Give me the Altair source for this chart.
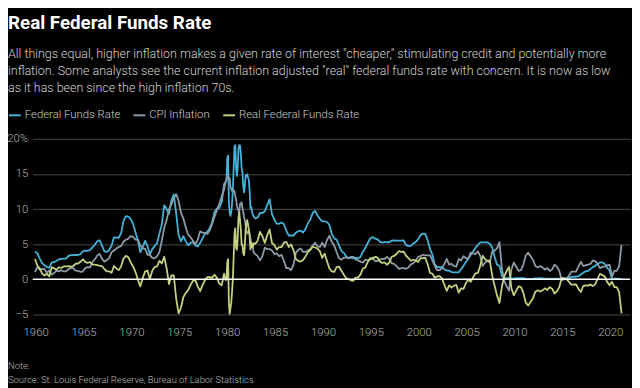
import altair as alt
import pandas as pd

# ---------------- data ----------------
# periods: quarterly 1960-1979, monthly 1980-1982, quarterly 1983-2021Q2
periods = (
    [f"{y}Q{q}" for y in range(1960, 1980) for q in range(1, 5)]
    + [f"{y}-{m:02d}" for y in range(1980, 1983) for m in range(1, 13)]
    + [f"{y}Q{q}" for y in range(1983, 2022) for q in range(1, 5)][:-2]
)

fed_funds = [
    3.93, 3.70, 2.94, 2.30, 2.00, 1.73, 1.68, 2.40, 2.46, 2.61, 2.85, 2.92,
    2.96, 2.96, 3.33, 3.45, 3.46, 3.49, 3.46, 3.58, 3.97, 4.08, 4.07, 4.17,
    4.56, 4.91, 5.41, 5.56, 4.82, 3.99, 3.89, 4.17, 4.79, 5.98, 5.94, 5.92,
    6.57, 8.33, 8.98, 8.94, 8.57, 7.88, 6.70, 5.57, 3.86, 4.56, 5.48, 4.75,
    3.54, 4.30, 4.74, 5.14, 6.54, 7.82, 10.56, 10.00, 9.32, 11.25, 12.09, 9.35,
    6.30, 5.42, 6.16, 5.41, 4.83, 5.20, 5.28, 4.87, 4.66, 5.16, 5.82, 6.51,
    6.76, 7.28, 8.10, 9.58, 10.07, 10.18, 10.95, 13.58,
    # monthly 1980-1982
    13.82, 14.13, 17.19, 17.61, 10.98, 9.47, 9.03, 9.61, 10.87, 12.81, 15.85, 18.90,
    19.08, 15.93, 14.70, 15.72, 18.52, 19.10, 19.04, 17.82, 15.87, 15.08, 13.31, 12.37,
    13.22, 14.78, 14.68, 14.94, 14.45, 14.15, 12.59, 10.12, 10.31, 9.71, 9.20, 8.95,
    # quarterly 1983-2021
    8.65, 8.80, 9.46, 9.43, 9.69, 10.56, 11.39, 9.27, 8.48, 7.92, 7.90, 8.10,
    7.83, 6.92, 6.21, 6.27, 6.22, 6.65, 6.84, 6.92, 6.66, 7.16, 7.98, 8.47,
    9.44, 9.73, 9.08, 8.61, 8.25, 8.24, 8.16, 7.74, 6.43, 5.86, 5.64, 4.82,
    4.02, 3.77, 3.26, 3.04, 3.04, 3.00, 3.06, 2.99, 3.21, 3.94, 4.49, 5.17,
    5.81, 6.02, 5.80, 5.72, 5.36, 5.24, 5.31, 5.28, 5.28, 5.52, 5.53, 5.51,
    5.52, 5.50, 5.53, 4.86, 4.73, 4.75, 5.09, 5.31, 5.68, 6.27, 6.52, 6.47,
    5.59, 4.33, 3.50, 2.13, 1.73, 1.75, 1.74, 1.44, 1.25, 1.25, 1.02, 1.00,
    1.00, 1.01, 1.43, 1.95, 2.47, 2.94, 3.46, 3.98, 4.46, 4.91, 5.25, 5.25,
    5.26, 5.25, 5.07, 4.50, 3.18, 2.09, 1.94, 0.51, 0.18, 0.18, 0.16, 0.12,
    0.13, 0.19, 0.19, 0.19, 0.16, 0.09, 0.08, 0.07, 0.10, 0.15, 0.14, 0.16,
    0.14, 0.12, 0.09, 0.09, 0.07, 0.09, 0.09, 0.10, 0.11, 0.13, 0.13, 0.16,
    0.36, 0.37, 0.39, 0.45, 0.70, 0.95, 1.15, 1.20, 1.45, 1.74, 1.92, 2.22,
    2.40, 2.40, 2.19, 1.64, 1.26, 0.06, 0.09, 0.09, 0.08, 0.06,
]

cpi_inflation = [
    1.03, 1.73, 1.36, 1.48, 1.46, 0.94, 1.25, 0.67, 0.89, 1.24, 1.13, 1.30,
    1.12, 1.12, 1.46, 1.63, 1.58, 1.24, 1.21, 1.08, 1.11, 1.60, 1.75, 1.70,
    2.47, 2.83, 3.38, 3.63, 2.93, 2.52, 2.74, 3.02, 3.86, 4.09, 4.39, 4.61,
    4.72, 5.38, 5.64, 5.79, 6.16, 6.04, 5.66, 5.60, 4.86, 4.41, 4.38, 3.50,
    3.48, 3.06, 2.99, 3.30, 3.90, 5.53, 7.35, 8.43, 9.98, 10.67, 11.54, 12.12,
    11.14, 9.46, 8.67, 7.37, 6.35, 5.98, 5.49, 4.98, 5.65, 6.83, 6.64, 6.62,
    6.45, 6.97, 7.88, 8.92, 9.85, 10.76, 11.80, 12.76,
    13.91, 14.18, 14.76, 14.73, 14.41, 14.38, 13.13, 12.87, 12.60, 12.77, 12.65, 12.52,
    11.83, 11.41, 10.49, 10.00, 9.78, 9.55, 10.76, 10.80, 10.95, 10.14, 9.59, 8.92,
    8.39, 7.62, 6.78, 6.51, 6.68, 7.06, 6.44, 5.85, 5.04, 5.14, 4.59, 3.83,
    3.6, 3.3, 2.7, 3.3, 4.5, 4.3, 4.3, 4.1, 3.6, 3.7, 3.3, 3.5,
    2.6, 1.6, 1.6, 1.3, 2.1, 3.8, 4.2, 4.4, 3.9, 3.9, 4.1, 4.3,
    4.8, 5.2, 4.7, 4.6, 5.2, 4.6, 5.6, 6.2, 5.3, 4.8, 3.9, 3.0,
    2.8, 3.1, 3.1, 3.0, 3.2, 3.2, 2.8, 2.7, 2.5, 2.4, 2.8, 2.7,
    2.8, 3.1, 2.6, 2.6, 2.8, 2.9, 2.9, 3.2, 2.9, 2.3, 2.2, 1.9,
    1.5, 1.6, 1.6, 1.5, 1.7, 2.1, 2.3, 2.6, 3.2, 3.3, 3.5, 3.4,
    3.4, 3.4, 2.7, 1.9, 1.3, 1.3, 1.6, 2.2, 2.9, 2.1, 2.2, 1.9,
    1.8, 2.9, 2.7, 3.3, 3.0, 3.0, 3.8, 3.7, 3.6, 4.0, 3.3, 1.9,
    2.4, 2.6, 2.4, 4.0, 4.1, 4.4, 5.3, 1.6, -0.2, -1.0, -1.6, 1.4,
    2.4, 1.8, 1.2, 1.3, 2.1, 3.4, 3.8, 3.3, 2.8, 1.9, 1.7, 1.9,
    1.7, 1.4, 1.6, 1.2, 1.4, 2.1, 1.8, 1.2, -0.1, 0.0, 0.1, 0.5,
    1.1, 1.1, 1.1, 1.8, 2.5, 1.9, 2.0, 2.1, 2.2, 2.7, 2.6, 2.2,
    1.6, 1.8, 1.8, 2.0, 2.1, 0.4, 1.2, 1.2, 1.9, 4.9,
]

real_rate = [
    2.90, 1.97, 1.58, 0.82, 0.54, 0.79, 0.43, 1.73, 1.57, 1.37, 1.72, 1.62,
    1.84, 1.84, 1.87, 1.82, 1.88, 2.25, 2.25, 2.50, 2.86, 2.48, 2.32, 2.47,
    2.09, 2.08, 2.03, 1.93, 1.89, 1.47, 1.15, 1.15, 0.93, 1.89, 1.55, 1.31,
    1.85, 2.95, 3.34, 3.15, 2.41, 1.84, 1.04, -0.03, -1.00, 0.15, 1.10, 1.25,
    0.06, 1.24, 1.75, 1.84, 2.64, 2.29, 3.21, 1.57, -0.66, 0.58, 0.55, -2.77,
    -4.84, -4.04, -2.51, -1.96, -1.52, -0.78, -0.21, -0.11, -0.99, -1.67, -0.82, -0.11,
    0.31, 0.31, 0.22, 0.66, 0.22, -0.58, -0.85, 0.82,
    -0.09, -0.05, 2.43, 2.88, -3.43, -4.91, -4.10, -3.26, -1.73, 0.04, 3.20, 6.38,
    7.25, 4.52, 4.21, 5.72, 8.74, 9.55, 8.28, 7.02, 4.92, 4.94, 3.72, 3.45,
    4.83, 7.16, 7.90, 8.43, 7.77, 7.09, 6.15, 4.27, 5.27, 4.57, 4.61, 5.12,
    5.05, 5.50, 6.76, 6.13, 5.19, 6.26, 7.09, 5.17, 4.88, 4.22, 4.60, 4.60,
    5.23, 5.32, 4.61, 4.97, 4.12, 2.85, 2.64, 2.52, 2.76, 3.26, 3.88, 4.17,
    4.64, 4.53, 4.38, 4.01, 3.05, 3.64, 2.56, 1.54, 1.13, 1.06, 1.74, 1.82,
    1.22, 0.67, 0.16, 0.04, -0.16, -0.20, 0.26, 0.29, 0.71, 1.54, 1.69, 2.47,
    3.01, 2.92, 3.20, 3.12, 2.56, 2.34, 2.41, 2.08, 2.38, 3.22, 3.33, 3.61,
    4.02, 3.90, 3.93, 3.36, 3.03, 2.65, 2.79, 2.71, 2.48, 2.97, 3.02, 3.07,
    2.19, 0.93, 0.80, 0.23, 0.43, 0.45, 0.14, -0.76, -1.65, -0.85, -1.18, -0.90,
    -0.80, -1.89, -1.27, -1.35, -0.53, -0.06, -0.34, 0.28, 0.86, 0.91, 1.95, 3.35,
    2.86, 2.65, 2.67, 0.50, -0.92, -2.31, -3.36, -1.09, 0.38, 1.18, 1.76, -1.28,
    -2.27, -1.61, -1.01, -1.11, -1.94, -3.31, -3.72, -3.23, -2.70, -1.75, -1.56, -1.74,
    -1.56, -1.28, -1.51, -1.11, -1.33, -2.01, -1.71, -1.10, 0.21, 0.13, 0.03, -0.34,
    -0.74, -0.73, -0.71, -1.35, -1.80, -0.95, -0.85, -0.90, -0.75, -0.96, -0.68, 0.02,
    0.80, 0.60, 0.39, -0.36, -0.84, -0.34, -1.11, -1.11, -1.82, -4.84,
]

series_names = ["Federal Funds Rate", "CPI Inflation", "Real Federal Funds Rate"]
series_colors = ["#44b3d9", "#8e9ba8", "#c3d27f"]
x_tick_years = [1960, 1965, 1970, 1975, 1980, 1985, 1990, 1995, 2000, 2005, 2010, 2015, 2020]
y_ticks = [-5, 0, 5, 10, 15, 20]

title_text = "Real Federal Funds Rate"
subtitle_lines = [
    'All things equal, higher inflation makes a given rate of interest "cheaper," stimulating credit and potentially more',
    'inflation. Some analysts see the current inflation adjusted "real" federal funds rate with concern. It is now as low',
    'as it has been since the high inflation 70s.',
]
note_text = "Note:"
source_text = "Source: St. Louis Federal Reserve, Bureau of Labor Statistics"


def period_to_year(p):
    # mid-period decimal year, placed slightly earlier as in the original graphic
    if "Q" in p:
        y, q = p.split("Q")
        v = int(y) + (int(q) - 0.5) / 4
    else:
        y, m = p.split("-")
        v = int(y) + (int(m) - 0.5) / 12
    return v - 0.2


rows = []
for name, vals in zip(series_names, [fed_funds, cpi_inflation, real_rate]):
    for p, v in zip(periods, vals):
        rows.append({"date": period_to_year(p), "value": v, "series": name,
                     "order": series_names.index(name)})
df = pd.DataFrame(rows)

FONT = "Roboto, sans-serif"
W, H = 605, 178
PAD_L, PAD_T = 25, 130

y_enc = alt.Y(
    "value:Q",
    scale=alt.Scale(domain=[-5, 20], nice=False, zero=False),
    axis=alt.Axis(
        values=y_ticks, title=None, ticks=False, domain=False, grid=True,
        gridColor="#4a4a4a", gridWidth=1, labelPadding=5, labelFontSize=11.5,
        labelColor="#b5b5b5", labelFont=FONT, labelFontWeight=300,
        labelOverlap=False, labelExpr="datum.value == 20 ? '20%' : datum.label",
    ),
)

lines = alt.Chart(df).mark_line(strokeWidth=1.8, strokeJoin="round").encode(
    x=alt.X(
        "date:Q",
        scale=alt.Scale(domain=[1959.69, 2022.06], nice=False, zero=False),
        axis=alt.Axis(
            values=x_tick_years, format="d", title=None, grid=False, ticks=False,
            domain=False, labelPadding=12, labelFontSize=11.5, labelColor="#b5b5b5",
            labelFont=FONT, labelFontWeight=300, labelOverlap=False,
        ),
    ),
    y=y_enc,
    color=alt.Color(
        "series:N",
        scale=alt.Scale(domain=series_names, range=series_colors),
        legend=alt.Legend(
            title=None, orient="none", legendX=-PAD_L, legendY=-31, direction="horizontal",
            symbolType="stroke", symbolSize=144, symbolStrokeWidth=2,
            labelFontSize=11.5, labelColor="#cfcfcf", labelFont=FONT, labelFontWeight=300,
            columnPadding=9, labelOffset=3,
        ),
    ),
    order="order:Q",
)

zero_rule = alt.Chart(pd.DataFrame({"value": [0]})).mark_rule(
    color="#ffffff", strokeWidth=1.5
).encode(y=y_enc)


def text_layer(txt, dx, dy, size, color, weight=300):
    return alt.Chart(pd.DataFrame({"t": [txt]})).mark_text(
        align="left", baseline="middle", fontSize=size, color=color,
        fontWeight=weight, font=FONT,
    ).encode(text="t:N", x=alt.value(dx), y=alt.value(dy))


texts = [text_layer(title_text, -PAD_L, -117, 19, "#ffffff", "bold")]
for i, line in enumerate(subtitle_lines):
    texts.append(text_layer(line, -PAD_L, -86 + i * 17.5, 12.6, "#d2d2d2"))
texts.append(text_layer(note_text, -PAD_L, 230, 9.5, "#bdbdbd"))
texts.append(text_layer(source_text, -PAD_L, 244, 9.5, "#bdbdbd"))

chart = alt.layer(lines, zero_rule, *texts).properties(
    width=W, height=H,
    padding={"left": PAD_L, "top": PAD_T, "right": 2, "bottom": 72},
    autosize=alt.AutoSizeParams(type="none"),
).configure(background="#000000").configure_view(stroke=None)

chart.save("out.html", embed_options={"renderer": "svg", "actions": False})
